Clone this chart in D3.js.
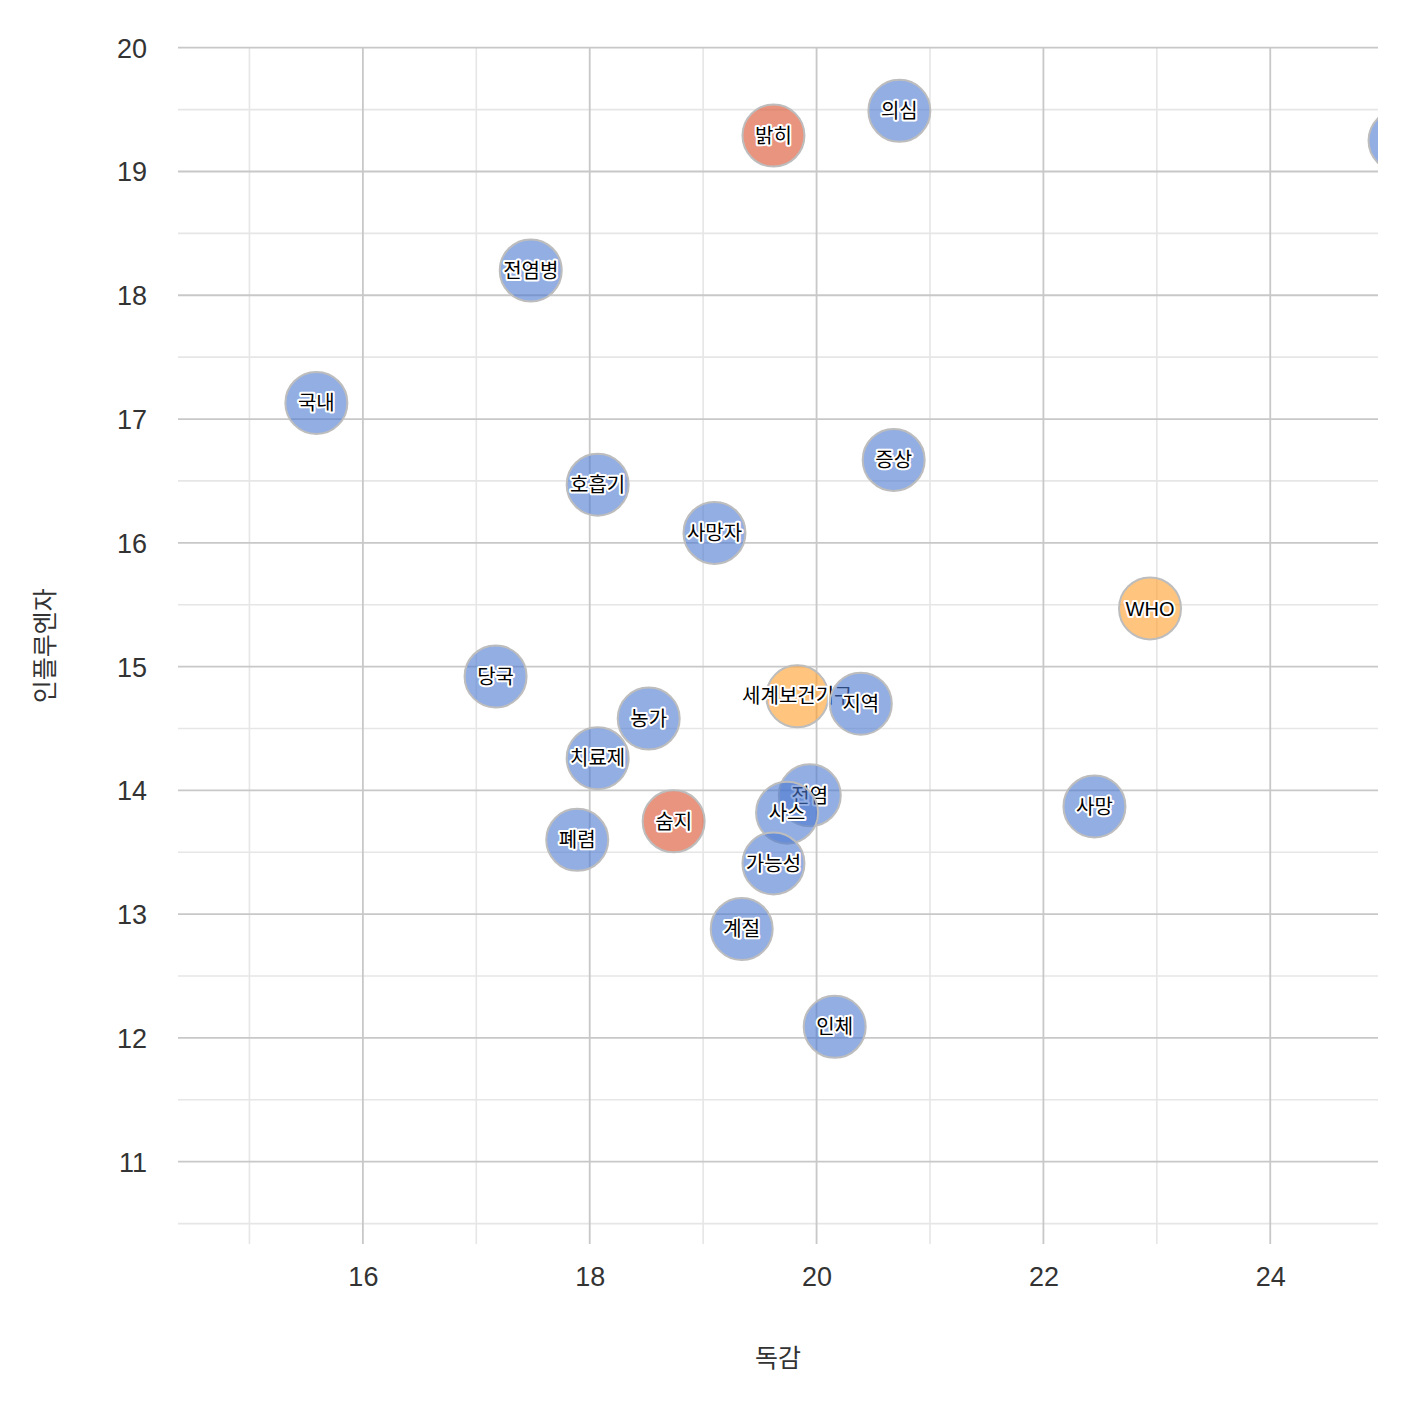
<!DOCTYPE html>
<html><head><meta charset="utf-8">
<script src="https://cdn.jsdelivr.net/npm/d3@7"></script>
<style>
body{margin:0;background:#fff;}
text{font-family:"Liberation Sans","Noto Sans CJK KR",Arial,sans-serif;}
</style></head>
<body>
<svg id="chart" width="1402" height="1418"></svg>
<script>
// data (drawn in order)
const words = ["의심","밝히","확진","전염병","국내","증상","호흡기","사망자","WHO","당국","세계보건기구","지역","농가","치료제","전염","사망","사스","숨지","폐렴","가능성","계절","인체"];
const xVals = [20.73,19.62,25.14,17.48,15.59,20.68,18.07,19.10,22.94,17.17,19.83,20.39,18.52,18.07,19.94,22.45,19.74,18.74,17.89,19.62,19.34,20.16];
const yVals = [19.49,19.29,19.25,18.20,17.13,16.67,16.47,16.08,15.47,14.92,14.76,14.70,14.58,14.26,13.96,13.87,13.82,13.75,13.60,13.41,12.88,12.09];
const groups = ["b","r","b","b","b","b","b","b","o","b","o","b","b","b","b","b","b","r","b","b","b","b"];
const xTicks = [16,18,20,22,24];
const xMinorTicks = [15,17,19,21,23];
const yTicks = [11,12,13,14,15,16,17,18,19,20];
const yMinorTicks = [10.5,11.5,12.5,13.5,14.5,15.5,16.5,17.5,18.5,19.5];
const xTitle = "독감";
const yTitle = "인플루엔자";

const colors = {b:"#4b78d0", r:"#d94d2a", o:"#ff9d28"};
const svg = d3.select("#chart");
const L=178,R=1378,T=47.7,B=1244;
const x = d3.scaleLinear().domain([14.37,24.95]).range([L,R]);
const y = d3.scaleLinear().domain([10.335,20]).range([B,T]);

svg.append("defs").append("clipPath").attr("id","clip")
  .append("rect").attr("x",L).attr("y",T-2).attr("width",R-L).attr("height",B-T+2);

const g = svg.append("g");
g.selectAll(".vx").data(xMinorTicks).join("line").attr("x1",d=>x(d)).attr("x2",d=>x(d)).attr("y1",T).attr("y2",B).attr("stroke","#e6e6e6").attr("stroke-width",1.6);
g.selectAll(".hy").data(yMinorTicks).join("line").attr("y1",d=>y(d)).attr("y2",d=>y(d)).attr("x1",L).attr("x2",R).attr("stroke","#e6e6e6").attr("stroke-width",1.6);
g.selectAll(".vX").data(xTicks).join("line").attr("x1",d=>x(d)).attr("x2",d=>x(d)).attr("y1",T).attr("y2",B).attr("stroke","#c8c8c8").attr("stroke-width",1.8);
g.selectAll(".hY").data(yTicks).join("line").attr("y1",d=>y(d)).attr("y2",d=>y(d)).attr("x1",L).attr("x2",R).attr("stroke","#c8c8c8").attr("stroke-width",1.8);

const xa = svg.append("g").attr("transform",`translate(0,${B})`).call(d3.axisBottom(x).tickValues(xTicks).tickSize(0).tickPadding(23).tickFormat(d3.format("d")));
xa.select(".domain").remove();
xa.selectAll("text").attr("font-size",27).attr("fill","#333").style("font-family","Liberation Sans, Arial, sans-serif");
const ya = svg.append("g").attr("transform",`translate(${L},0)`).call(d3.axisLeft(y).tickValues(yTicks).tickSize(0).tickPadding(31).tickFormat(d3.format("d")));
ya.select(".domain").remove();
ya.selectAll("text").attr("font-size",27).attr("fill","#333").attr("dy","0.35em").style("font-family","Liberation Sans, Arial, sans-serif");

svg.append("text").attr("x",(L+R)/2).attr("y",1367).attr("text-anchor","middle").attr("font-size",25).attr("fill","#333").style("font-family","Noto Sans CJK KR").text(xTitle);
svg.append("text").attr("transform",`translate(54,${(T+B)/2}) rotate(-90)`).attr("text-anchor","middle").attr("font-size",25).attr("fill","#333").style("font-family","Noto Sans CJK KR").text(yTitle);

const data = words.map((w,i)=>({w,x:xVals[i],y:yVals[i],g:groups[i]}));
const pg = svg.append("g").attr("clip-path","url(#clip)");
data.forEach(d=>{
  pg.append("circle").attr("cx",x(d.x)).attr("cy",y(d.y)).attr("r",31)
    .attr("fill",colors[d.g]).attr("fill-opacity",0.6)
    .attr("stroke","#bdbdbd").attr("stroke-width",2);
  if (x(d.x) <= R) {
    pg.append("text").attr("x",x(d.x)).attr("y",y(d.y)).attr("dy","0.36em")
      .attr("text-anchor","middle").attr("font-size",20).attr("fill","#000")
      .attr("stroke","#fff").attr("stroke-width",4).attr("stroke-linejoin","round")
      .attr("paint-order","stroke").style("font-family","Liberation Sans, Noto Sans CJK KR, sans-serif")
      .text(d.w);
  }
});
</script>
</body></html>
